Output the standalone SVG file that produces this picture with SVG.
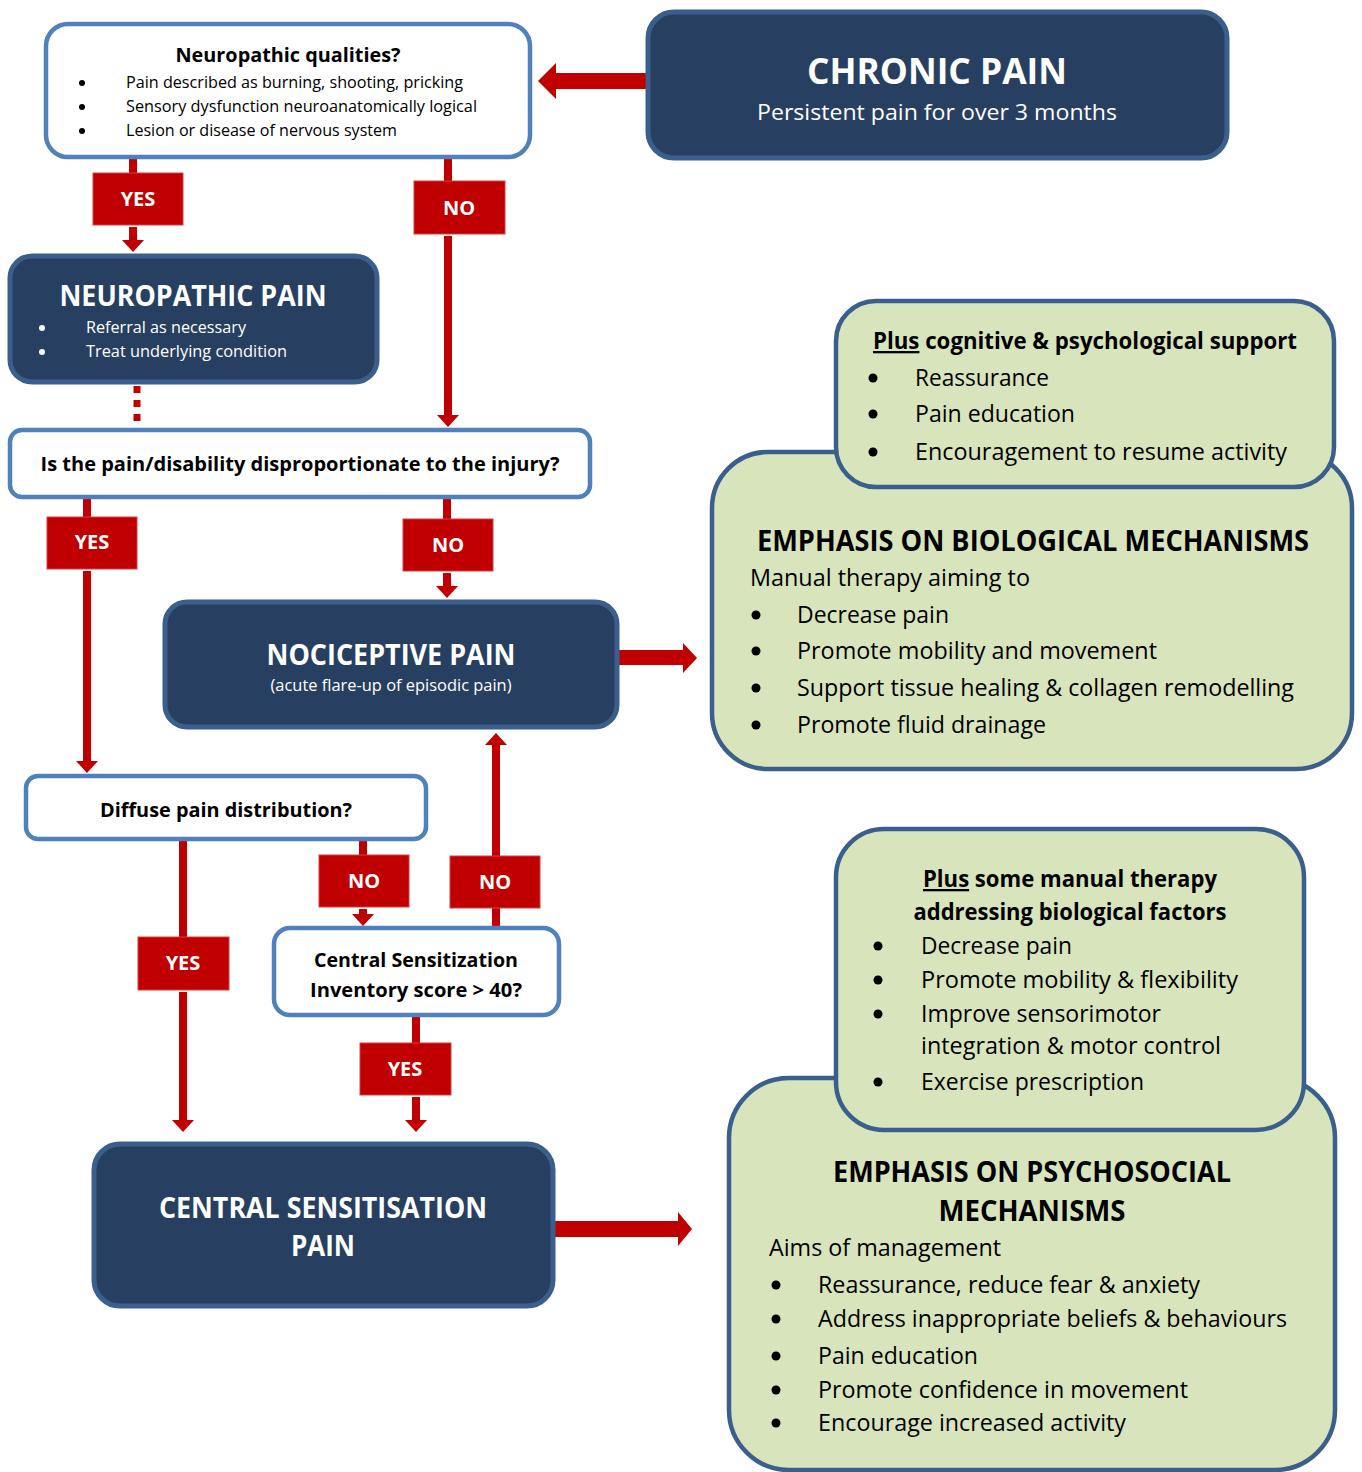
<svg xmlns="http://www.w3.org/2000/svg" width="1362" height="1472" viewBox="0 0 1362 1472">
<style>
text{font-family:"Open Sans","Noto Sans","Liberation Sans",sans-serif;}
.dark{fill:#274061;stroke:#3b5f8d;stroke-width:5;}
.q{fill:#ffffff;stroke:#4f81bd;stroke-width:4.5;}
.green{fill:#d8e4bc;stroke:#3b5f8d;stroke-width:4.5;}
.lbl{fill:#c00000;stroke:#d04040;stroke-width:1;}
.lt{fill:#ffffff;font-weight:bold;font-size:20px;text-anchor:middle;}
.wt{fill:#ffffff;}
.bk{fill:#000000;}
.b{font-weight:bold;}
.c{text-anchor:middle;}
.con{stroke:#c00000;stroke-width:8;fill:none;}
.dot{stroke:#c00000;stroke-width:7;fill:none;stroke-dasharray:7 7;}
.red{fill:#c00000;}
</style>
<defs>
<marker id="ah" viewBox="0 0 12 22" refX="2" refY="11" markerWidth="12" markerHeight="22" markerUnits="userSpaceOnUse" orient="auto">
<path d="M0,0 L12,11 L0,22 Z" fill="#c00000"/>
</marker>
</defs>

<g id="connectors">
<polygon class="red" points="647,73 556,73 556,63 538,81 556,99 556,89 647,89"/>
<line class="con" x1="133" y1="157" x2="133" y2="173"/>
<line class="con" x1="133" y1="227" x2="133" y2="242" marker-end="url(#ah)"/>
<line class="con" x1="448" y1="157" x2="448" y2="181"/>
<line class="con" x1="448" y1="236" x2="448" y2="417" marker-end="url(#ah)"/>
<line class="dot" x1="137" y1="386" x2="137" y2="428"/>
<line class="con" x1="87" y1="498" x2="87" y2="517"/>
<line class="con" x1="87" y1="571" x2="87" y2="763" marker-end="url(#ah)"/>
<line class="con" x1="447" y1="498" x2="447" y2="519"/>
<line class="con" x1="447" y1="573" x2="447" y2="588" marker-end="url(#ah)"/>
<polygon class="red" points="618,650 683,650 683,643 697,658 683,673 683,665 618,665"/>
<line class="con" x1="183" y1="840" x2="183" y2="937"/>
<line class="con" x1="183" y1="992" x2="183" y2="1122" marker-end="url(#ah)"/>
<line class="con" x1="363" y1="840" x2="363" y2="855"/>
<line class="con" x1="363" y1="909" x2="363" y2="916" marker-end="url(#ah)"/>
<line class="con" x1="496" y1="927" x2="496" y2="908"/>
<line class="con" x1="496" y1="856" x2="496" y2="743" marker-end="url(#ah)"/>
<line class="con" x1="416" y1="1016" x2="416" y2="1043"/>
<line class="con" x1="416" y1="1097" x2="416" y2="1122" marker-end="url(#ah)"/>
<polygon class="red" points="554,1221 678,1221 678,1212 692,1229 678,1246 678,1237 554,1237"/>
<g id="labels">
<rect class="lbl" x="93" y="173" width="90" height="52"/><text class="lt" x="138" y="206">YES</text>
<rect class="lbl" x="414" y="181" width="91" height="53"/><text class="lt" x="459" y="215">NO</text>
<rect class="lbl" x="47" y="517" width="90" height="52"/><text class="lt" x="92" y="549">YES</text>
<rect class="lbl" x="403" y="519" width="90" height="52"/><text class="lt" x="448" y="552">NO</text>
<rect class="lbl" x="138" y="937" width="91" height="53"/><text class="lt" x="183" y="970">YES</text>
<rect class="lbl" x="319" y="855" width="90" height="52"/><text class="lt" x="364" y="888">NO</text>
<rect class="lbl" x="450" y="856" width="90" height="52"/><text class="lt" x="495" y="889">NO</text>
<rect class="lbl" x="360" y="1043" width="91" height="52"/><text class="lt" x="405" y="1076">YES</text>
</g>
</g>

<g id="chronic">
<rect class="dark" x="648" y="12" width="579" height="146" rx="26"/>
<text class="wt b c" x="937" y="84" font-size="36" textLength="260" lengthAdjust="spacingAndGlyphs">CHRONIC PAIN</text>
<text class="wt c" x="937" y="120" font-size="22" textLength="360" lengthAdjust="spacingAndGlyphs">Persistent pain for over 3 months</text>
</g>

<g id="neuro-q">
<rect class="q" x="46" y="24" width="484" height="133" rx="22"/>
<text class="bk b c" x="288" y="62" font-size="20" textLength="225" lengthAdjust="spacingAndGlyphs">Neuropathic qualities?</text>
<circle class="bk" cx="82" cy="83" r="3"/>
<text class="bk" x="126" y="88" font-size="16" textLength="337" lengthAdjust="spacingAndGlyphs">Pain described as burning, shooting, pricking</text>
<circle class="bk" cx="82" cy="107" r="3"/>
<text class="bk" x="126" y="112" font-size="16" textLength="351" lengthAdjust="spacingAndGlyphs">Sensory dysfunction neuroanatomically logical</text>
<circle class="bk" cx="82" cy="131" r="3"/>
<text class="bk" x="126" y="136" font-size="16" textLength="271" lengthAdjust="spacingAndGlyphs">Lesion or disease of nervous system</text>
</g>

<g id="neuro-pain">
<rect class="dark" x="10" y="256" width="367" height="126" rx="22"/>
<text class="wt b c" x="193" y="306" font-size="28" textLength="267" lengthAdjust="spacingAndGlyphs">NEUROPATHIC PAIN</text>
<circle class="wt" cx="42" cy="328" r="3"/>
<text class="wt" x="86" y="333" font-size="16" textLength="160" lengthAdjust="spacingAndGlyphs">Referral as necessary</text>
<circle class="wt" cx="42" cy="352" r="3"/>
<text class="wt" x="86" y="357" font-size="16" textLength="201" lengthAdjust="spacingAndGlyphs">Treat underlying condition</text>
</g>

<g id="dispro">
<rect class="q" x="10" y="430" width="580" height="67" rx="12"/>
<text class="bk b c" x="300" y="471" font-size="20" textLength="519" lengthAdjust="spacingAndGlyphs">Is the pain/disability disproportionate to the injury?</text>
</g>

<g id="nociceptive">
<rect class="dark" x="165" y="602" width="452" height="125" rx="22"/>
<text class="wt b c" x="391" y="665" font-size="29" textLength="249" lengthAdjust="spacingAndGlyphs">NOCICEPTIVE PAIN</text>
<text class="wt c" x="391" y="691" font-size="16" textLength="241" lengthAdjust="spacingAndGlyphs">(acute flare-up of episodic pain)</text>
</g>

<g id="diffuse">
<rect class="q" x="26" y="776" width="400" height="63" rx="12"/>
<text class="bk b c" x="226" y="817" font-size="20" textLength="252" lengthAdjust="spacingAndGlyphs">Diffuse pain distribution?</text>
</g>

<g id="csi">
<rect class="q" x="274" y="928" width="285" height="87" rx="16"/>
<text class="bk b c" x="416" y="967" font-size="20" textLength="204" lengthAdjust="spacingAndGlyphs">Central Sensitization</text>
<text class="bk b c" x="416" y="997" font-size="20" textLength="212" lengthAdjust="spacingAndGlyphs">Inventory score &gt; 40?</text>
</g>

<g id="central">
<rect class="dark" x="94" y="1144" width="459" height="162" rx="26"/>
<text class="wt b c" x="323" y="1218" font-size="28" textLength="328" lengthAdjust="spacingAndGlyphs">CENTRAL SENSITISATION</text>
<text class="wt b c" x="323" y="1256" font-size="28" textLength="64" lengthAdjust="spacingAndGlyphs">PAIN</text>
</g>

<g id="bio">
<rect class="green" x="712" y="452" width="640" height="317" rx="56"/>
<text class="bk b c" x="1033" y="551" font-size="28" textLength="552" lengthAdjust="spacingAndGlyphs">EMPHASIS ON BIOLOGICAL MECHANISMS</text>
<text class="bk" x="750" y="586" font-size="23" textLength="280" lengthAdjust="spacingAndGlyphs">Manual therapy aiming to</text>
<circle class="bk" cx="756" cy="615" r="4.5"/>
<text class="bk" x="797" y="623" font-size="23" textLength="152" lengthAdjust="spacingAndGlyphs">Decrease pain</text>
<circle class="bk" cx="756" cy="651" r="4.5"/>
<text class="bk" x="797" y="659" font-size="23" textLength="360" lengthAdjust="spacingAndGlyphs">Promote mobility and movement</text>
<circle class="bk" cx="756" cy="688" r="4.5"/>
<text class="bk" x="797" y="696" font-size="23" textLength="497" lengthAdjust="spacingAndGlyphs">Support tissue healing &amp; collagen remodelling</text>
<circle class="bk" cx="756" cy="725" r="4.5"/>
<text class="bk" x="797" y="733" font-size="23" textLength="249" lengthAdjust="spacingAndGlyphs">Promote fluid drainage</text>
</g>

<g id="cognitive">
<rect class="green" x="836" y="301" width="498" height="186" rx="40"/>
<text class="bk b c" x="1085" y="349" font-size="23" textLength="424" lengthAdjust="spacingAndGlyphs"><tspan text-decoration="underline">Plus</tspan> cognitive &amp; psychological support</text>
<circle class="bk" cx="873" cy="378" r="4.5"/>
<text class="bk" x="915" y="386" font-size="23" textLength="134" lengthAdjust="spacingAndGlyphs">Reassurance</text>
<circle class="bk" cx="873" cy="414" r="4.5"/>
<text class="bk" x="915" y="422" font-size="23" textLength="160" lengthAdjust="spacingAndGlyphs">Pain education</text>
<circle class="bk" cx="873" cy="452" r="4.5"/>
<text class="bk" x="915" y="460" font-size="23" textLength="372" lengthAdjust="spacingAndGlyphs">Encouragement to resume activity</text>
</g>

<g id="psycho">
<rect class="green" x="729" y="1078" width="606" height="392" rx="60"/>
<text class="bk b c" x="1032" y="1182" font-size="28" textLength="398" lengthAdjust="spacingAndGlyphs">EMPHASIS ON PSYCHOSOCIAL</text>
<text class="bk b c" x="1032" y="1221" font-size="28" textLength="187" lengthAdjust="spacingAndGlyphs">MECHANISMS</text>
<text class="bk" x="769" y="1256" font-size="23" textLength="232" lengthAdjust="spacingAndGlyphs">Aims of management</text>
<circle class="bk" cx="776" cy="1285" r="4.5"/>
<text class="bk" x="818" y="1293" font-size="23" textLength="382" lengthAdjust="spacingAndGlyphs">Reassurance, reduce fear &amp; anxiety</text>
<circle class="bk" cx="776" cy="1319" r="4.5"/>
<text class="bk" x="818" y="1327" font-size="23" textLength="469" lengthAdjust="spacingAndGlyphs">Address inappropriate beliefs &amp; behaviours</text>
<circle class="bk" cx="776" cy="1356" r="4.5"/>
<text class="bk" x="818" y="1364" font-size="23" textLength="160" lengthAdjust="spacingAndGlyphs">Pain education</text>
<circle class="bk" cx="776" cy="1390" r="4.5"/>
<text class="bk" x="818" y="1398" font-size="23" textLength="370" lengthAdjust="spacingAndGlyphs">Promote confidence in movement</text>
<circle class="bk" cx="776" cy="1423" r="4.5"/>
<text class="bk" x="818" y="1431" font-size="23" textLength="308" lengthAdjust="spacingAndGlyphs">Encourage increased activity</text>
</g>

<g id="manual">
<rect class="green" x="836" y="829" width="468" height="301" rx="48"/>
<text class="bk b c" x="1070" y="887" font-size="23" textLength="294" lengthAdjust="spacingAndGlyphs"><tspan text-decoration="underline">Plus</tspan> some manual therapy</text>
<text class="bk b c" x="1070" y="920" font-size="23" textLength="313" lengthAdjust="spacingAndGlyphs">addressing biological factors</text>
<circle class="bk" cx="878" cy="946" r="4.5"/>
<text class="bk" x="921" y="954" font-size="23" textLength="151" lengthAdjust="spacingAndGlyphs">Decrease pain</text>
<circle class="bk" cx="878" cy="980" r="4.5"/>
<text class="bk" x="921" y="988" font-size="23" textLength="317" lengthAdjust="spacingAndGlyphs">Promote mobility &amp; flexibility</text>
<circle class="bk" cx="878" cy="1014" r="4.5"/>
<text class="bk" x="921" y="1022" font-size="23" textLength="240" lengthAdjust="spacingAndGlyphs">Improve sensorimotor</text>
<text class="bk" x="921" y="1054" font-size="23" textLength="300" lengthAdjust="spacingAndGlyphs">integration &amp; motor control</text>
<circle class="bk" cx="878" cy="1082" r="4.5"/>
<text class="bk" x="921" y="1090" font-size="23" textLength="223" lengthAdjust="spacingAndGlyphs">Exercise prescription</text>
</g>
</svg>
